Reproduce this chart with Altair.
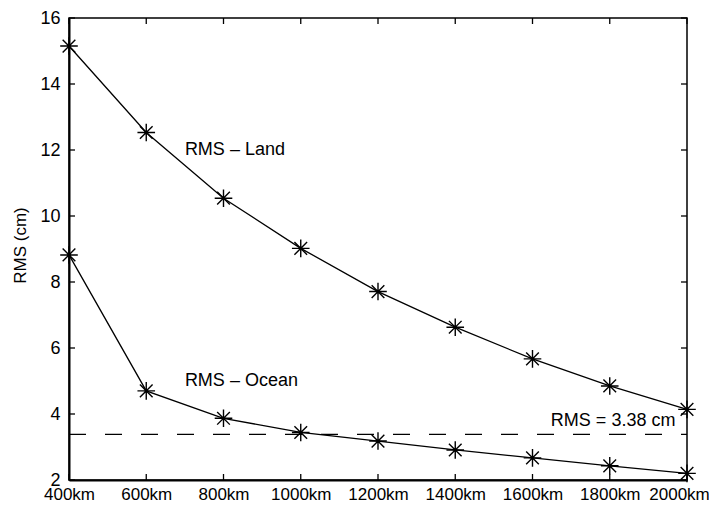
import altair as alt
import pandas as pd

distance_km = [400, 600, 800, 1000, 1200, 1400, 1600, 1800, 2000]
rms_land = [15.15, 12.53, 10.54, 9.02, 7.71, 6.63, 5.67, 4.85, 4.14]
rms_ocean = [8.82, 4.70, 3.87, 3.44, 3.18, 2.91, 2.67, 2.43, 2.20]
threshold = 3.38
y_ticks = [2, 4, 6, 8, 10, 12, 14, 16]

labels = ["RMS \u2013 Land", "RMS \u2013 Ocean"]
label_x = [700, 700]
label_y = [12.0, 5.0]
thr_label = "RMS = 3.38 cm"
thr_label_x = 1970
thr_label_y = 3.78

W, H = 618, 462
FONT = "Liberation Sans"

rows = []
for name, vals in [("Land", rms_land), ("Ocean", rms_ocean)]:
    for d, v in zip(distance_km, vals):
        rows.append({"series": name, "km": d, "rms": v})
df = pd.DataFrame(rows)

xs = alt.Scale(domain=[400, 2000], nice=False, zero=False)
ys = alt.Scale(domain=[2, 16], nice=False, zero=False)

x_axis = alt.Axis(values=distance_km, labelExpr="datum.value + 'km'", ticks=False,
                  grid=False, domainColor="black", domainWidth=2, labelFontSize=17,
                  labelFont=FONT, labelColor="black", labelPadding=6, title=None,
                  labelFlush=False, labelOverlap=False,
                  labelOffset={"condition": {"test": "datum.value == 2000", "value": -8},
                               "value": 0})
y_axis = alt.Axis(values=y_ticks, ticks=False, grid=False, domainColor="black",
                  domainWidth=2, labelFontSize=18, labelFont=FONT, labelColor="black",
                  labelPadding=9, title="RMS (cm)", titleFont=FONT, titleFontSize=17,
                  titleFontWeight="normal", titleColor="#000000", titleX=-49, titleY=227,
                  titleAngle=270, titleAlign="center", titleBaseline="middle",
                  titleOpacity=1)

star = "M-1,0L1,0M0,-1L0,1M-0.72,-0.72L0.72,0.72M-0.72,0.72L0.72,-0.72"

base = alt.Chart(df)
lines = base.mark_line(color="black", strokeWidth=1.3).encode(
    x=alt.X("km:Q", scale=xs, axis=x_axis),
    y=alt.Y("rms:Q", scale=ys, axis=y_axis),
    detail="series:N",
)
points = base.mark_point(shape=star, size=310, filled=False, color="black",
                         strokeWidth=1.4, opacity=1).encode(
    x=alt.X("km:Q", scale=xs), y=alt.Y("rms:Q", scale=ys))

thr = alt.Chart(pd.DataFrame({"v": [threshold]})).mark_rule(
    color="black", strokeWidth=1.3, strokeDash=[17, 19]).encode(
    y=alt.Y("v:Q", scale=ys), x=alt.value(0), x2=alt.value(W))

lab_df = pd.DataFrame({"t": labels, "x": label_x, "y": label_y})
labs = alt.Chart(lab_df).mark_text(align="left", baseline="middle", fontSize=18,
                                   font=FONT, color="black").encode(
    x=alt.X("x:Q", scale=xs), y=alt.Y("y:Q", scale=ys), text="t:N")

thr_df = pd.DataFrame({"t": [thr_label], "x": [thr_label_x], "y": [thr_label_y]})
thr_lab = alt.Chart(thr_df).mark_text(align="right", baseline="middle", fontSize=18,
                                      font=FONT, color="black").encode(
    x=alt.X("x:Q", scale=xs), y=alt.Y("y:Q", scale=ys), text="t:N")

xt = pd.DataFrame({"km": distance_km})
yt = pd.DataFrame({"v": y_ticks})
tick_top = alt.Chart(xt).mark_rule(color="black", strokeWidth=1.3).encode(
    x=alt.X("km:Q", scale=xs), y=alt.value(0), y2=alt.value(6))
tick_bot = alt.Chart(xt).mark_rule(color="black", strokeWidth=1.3).encode(
    x=alt.X("km:Q", scale=xs), y=alt.value(H), y2=alt.value(H - 6))
tick_left = alt.Chart(yt).mark_rule(color="black", strokeWidth=1.3).encode(
    y=alt.Y("v:Q", scale=ys), x=alt.value(0), x2=alt.value(6))
tick_right = alt.Chart(yt).mark_rule(color="black", strokeWidth=1.3).encode(
    y=alt.Y("v:Q", scale=ys), x=alt.value(W), x2=alt.value(W - 6))

chart = alt.layer(thr, lines, points, labs, thr_lab, tick_top, tick_bot,
                  tick_left, tick_right).properties(
    width=W, height=H,
    autosize=alt.AutoSizeParams(type="none"),
    padding={"left": 61, "top": 10, "right": 22, "bottom": 26},
    background="white",
).configure_view(stroke="black", strokeWidth=1.5).configure_axis(
    titleColor="#000000", labelColor="#000000")

chart.save("out.html", embed_options={"renderer": "svg", "actions": False})
